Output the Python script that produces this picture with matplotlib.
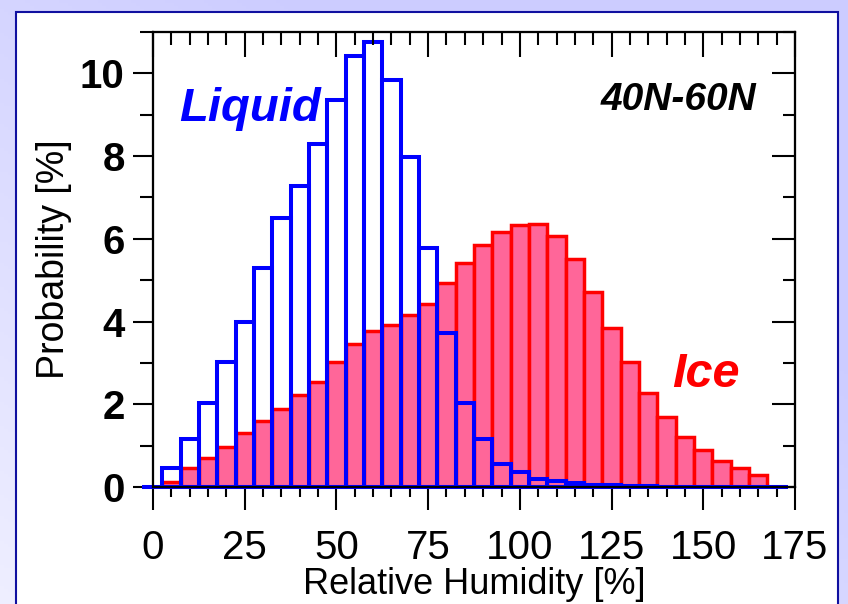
import numpy as np
import matplotlib
matplotlib.use("Agg")
import matplotlib.pyplot as plt
from matplotlib.patches import Rectangle
from matplotlib.ticker import MultipleLocator

plt.rcParams["font.family"] = ["Liberation Sans", "DejaVu Sans"]

# bin centres of relative humidity [%], 5 % wide
rh_bins = [5, 10, 15, 20, 25, 30, 35, 40, 45, 50, 55, 60, 65, 70, 75, 80, 85,
           90, 95, 100, 105, 110, 115, 120, 125, 130, 135, 140, 145, 150, 155,
           160, 165, 170]

# probability [%] of ice clouds
ice = [0.11, 0.45, 0.69, 0.96, 1.30, 1.60, 1.88, 2.23, 2.55, 3.03, 3.45, 3.76,
       3.92, 4.16, 4.43, 4.94, 5.41, 5.84, 6.16, 6.34, 6.35, 6.07, 5.51, 4.71,
       3.84, 3.01, 2.27, 1.69, 1.21, 0.90, 0.63, 0.45, 0.30, 0.0]

# probability [%] of liquid clouds
liquid = [0.47, 1.15, 2.04, 3.03, 4.00, 5.30, 6.50, 7.27, 8.29, 9.35, 10.43,
          10.77, 9.83, 7.97, 5.78, 3.73, 2.04, 1.15, 0.55, 0.36, 0.20, 0.15,
          0.10, 0.06, 0.04, 0.03, 0.02, 0.01, 0.01, 0.01, 0.01, 0.01, 0.01,
          0.01]

fig = plt.figure(figsize=(8.48, 6.04), dpi=100)

# lavender gradient background and white panel
bg = fig.add_axes([0, 0, 1, 1])
yy, xx = np.mgrid[0:1:200j, 0:1:200j]
t = np.clip(0.55 * (1 - xx) + 0.6 * yy - 0.35, 0, 1)
top = np.array([0.80, 0.80, 1.0])
low = np.array([0.97, 0.97, 1.0])
img = top[None, None, :] * (1 - t[..., None]) + low[None, None, :] * t[..., None]
bg.imshow(img, extent=[0, 1, 0, 1], aspect="auto", origin="upper")
bg.add_patch(Rectangle((16 / 848, -0.05), 822 / 848, 1.05 - 12 / 604,
                       facecolor="white", edgecolor="#1010A0", linewidth=1.5))
bg.set_xlim(0, 1)
bg.set_ylim(0, 1)
bg.axis("off")

ax = fig.add_axes([153 / 848, 1 - 487 / 604, 642 / 848, 455 / 604])
ax.set_facecolor("none")

ax.bar(rh_bins, ice, width=5, facecolor="#FF6699", edgecolor="#FF0000",
       linewidth=2.5, zorder=2)
ax.bar(rh_bins, liquid, width=5, fill=False, edgecolor="#0000FF",
       linewidth=2.9, zorder=3)
ax.plot([-3, 173], [0, 0], color="#0000FF", linewidth=2.9, clip_on=False,
        zorder=4, solid_capstyle="butt")

ax.set_xlim(0, 175)
ax.set_ylim(0, 11)

for s in ax.spines.values():
    s.set_linewidth(1.5)

ax.xaxis.set_major_locator(MultipleLocator(25))
ax.xaxis.set_minor_locator(MultipleLocator(5))
ax.yaxis.set_major_locator(MultipleLocator(2))
ax.yaxis.set_minor_locator(MultipleLocator(1))
ax.tick_params(axis="x", which="major", direction="out", length=16.5,
               width=1.5, pad=14, labelsize=29)
ax.tick_params(axis="x", which="minor", direction="out", length=7.2, width=1.5)
ax.tick_params(axis="y", which="major", direction="out", length=14.4,
               width=1.5, pad=6, labelsize=29)
ax.tick_params(axis="y", which="minor", direction="out", length=9.4, width=1.5)
for lbl in ax.get_yticklabels():
    lbl.set_fontweight("bold")

# inward ticks on the top and right sides
axr = ax.twinx()
axr.set_ylim(ax.get_ylim())
axr.yaxis.set_major_locator(MultipleLocator(2))
axr.yaxis.set_minor_locator(MultipleLocator(1))
axr.tick_params(axis="y", which="major", direction="in", length=16.5,
                width=1.5, labelright=False)
axr.tick_params(axis="y", which="minor", direction="in", length=8.6, width=1.5)
axt = ax.twiny()
axt.set_xlim(ax.get_xlim())
axt.xaxis.set_major_locator(MultipleLocator(25))
axt.xaxis.set_minor_locator(MultipleLocator(5))
axt.tick_params(axis="x", which="major", direction="in", length=18,
                width=1.5, labeltop=False)
axt.tick_params(axis="x", which="minor", direction="in", length=9.4, width=1.5)
for a in (axr, axt):
    a.set_facecolor("none")
    for s in a.spines.values():
        s.set_linewidth(1.5)

ax.set_xlabel("Relative Humidity [%]", fontsize=26, labelpad=0)
ax.set_ylabel("Probability [%]", fontsize=27, labelpad=6)

ax.text(7, 8.85, "Liquid", color="#0000FF", fontsize=34, fontweight="bold",
        fontstyle="italic", ha="left", va="baseline", zorder=5)
ax.text(141.5, 2.42, "Ice", color="#FF0000", fontsize=35, fontweight="bold",
        fontstyle="italic", ha="left", va="baseline", zorder=5)
ax.text(164.5, 9.12, "40N-60N", color="black", fontsize=28, fontweight="bold",
        fontstyle="italic", ha="right", va="baseline", zorder=5)

fig.savefig("out.png", dpi=100)
